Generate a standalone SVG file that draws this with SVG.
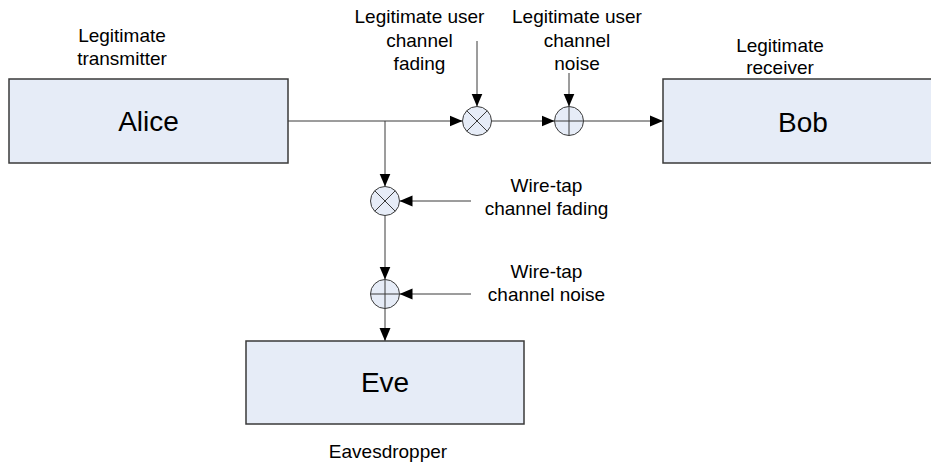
<svg xmlns="http://www.w3.org/2000/svg" width="931" height="466" viewBox="0 0 931 466">
  <style>
    .box { fill: #e6ecf7; stroke: #3a3a3a; stroke-width: 1.5; }
    .op { fill: #e6ecf7; stroke: #3a3a3a; stroke-width: 1; }
    .sym { stroke: #3a3a3a; stroke-width: 1; fill: none; }
    .wire { stroke: #3a3a3a; stroke-width: 1; fill: none; marker-end: url(#arrow); }
    .plain { stroke: #3a3a3a; stroke-width: 1; fill: none; }
    .name { font-family: "Liberation Sans", Arial, sans-serif; font-size: 28px; fill: #000; text-anchor: middle; }
    .lbl { font-family: "Liberation Sans", Arial, sans-serif; font-size: 19px; fill: #000; text-anchor: middle; }
  </style>
  <defs>
    <marker id="arrow" markerUnits="userSpaceOnUse" markerWidth="14" markerHeight="12" refX="13" refY="6" orient="auto">
      <path d="M0,0.5 L13,6 L0,11.5 Z" fill="#000"/>
    </marker>
  </defs>

  <rect width="931" height="466" fill="#fff"/>

  <!-- connectors -->
  <g id="connectors">
    <line class="wire" x1="288" y1="121" x2="462.5" y2="121"/>
    <line class="wire" x1="385" y1="121" x2="385" y2="186.5"/>
    <line class="wire" x1="491.5" y1="121" x2="554.5" y2="121"/>
    <line class="wire" x1="583.5" y1="121" x2="663" y2="121"/>
    <line class="wire" x1="477" y1="41" x2="477" y2="106.5"/>
    <line class="wire" x1="569" y1="73" x2="569" y2="106.5"/>
    <line class="wire" x1="385" y1="215.5" x2="385" y2="279.5"/>
    <line class="wire" x1="385" y1="308.5" x2="385" y2="341"/>
    <line class="wire" x1="471" y1="201" x2="399.5" y2="201"/>
    <line class="wire" x1="471" y1="294" x2="399.5" y2="294"/>
  </g>

  <!-- transmitter -->
  <g id="alice">
    <rect class="box" x="9" y="79" width="279" height="84"/>
    <text class="name" x="148.5" y="131">Alice</text>
    <text class="lbl" x="122" y="42">Legitimate</text>
    <text class="lbl" x="122" y="65">transmitter</text>
  </g>

  <!-- receiver -->
  <g id="bob">
    <rect class="box" x="663" y="79" width="280" height="84"/>
    <text class="name" x="803" y="131.5">Bob</text>
    <text class="lbl" x="780" y="51.5">Legitimate</text>
    <text class="lbl" x="780" y="74">receiver</text>
  </g>

  <!-- eavesdropper -->
  <g id="eve">
    <rect class="box" x="246" y="341" width="278" height="83"/>
    <text class="name" x="385" y="392">Eve</text>
    <text class="lbl" x="388" y="458">Eavesdropper</text>
  </g>

  <!-- main channel fading (multiplier) -->
  <g id="main-fading">
    <circle class="op" cx="477" cy="121" r="14.5"/>
    <path class="sym" d="M466.7,110.7 L487.3,131.3 M487.3,110.7 L466.7,131.3"/>
    <text class="lbl" x="419.5" y="23">Legitimate user</text>
    <text class="lbl" x="419.5" y="46.5">channel</text>
    <text class="lbl" x="419.5" y="70">fading</text>
  </g>

  <!-- main channel noise (adder) -->
  <g id="main-noise">
    <circle class="op" cx="569" cy="121" r="14.5"/>
    <path class="sym" d="M554.5,121 L583.5,121 M569,106.5 L569,135.5"/>
    <text class="lbl" x="577" y="23">Legitimate user</text>
    <text class="lbl" x="577" y="46.5">channel</text>
    <text class="lbl" x="577" y="70">noise</text>
  </g>

  <!-- wire-tap channel fading (multiplier) -->
  <g id="tap-fading">
    <circle class="op" cx="385" cy="201" r="14.5"/>
    <path class="sym" d="M374.7,190.7 L395.3,211.3 M395.3,190.7 L374.7,211.3"/>
    <text class="lbl" x="546.5" y="192">Wire-tap</text>
    <text class="lbl" x="546.5" y="215">channel fading</text>
  </g>

  <!-- wire-tap channel noise (adder) -->
  <g id="tap-noise">
    <circle class="op" cx="385" cy="294" r="14.5"/>
    <path class="sym" d="M370.5,294 L399.5,294 M385,279.5 L385,308.5"/>
    <text class="lbl" x="546.5" y="278">Wire-tap</text>
    <text class="lbl" x="546.5" y="301">channel noise</text>
  </g>
</svg>
